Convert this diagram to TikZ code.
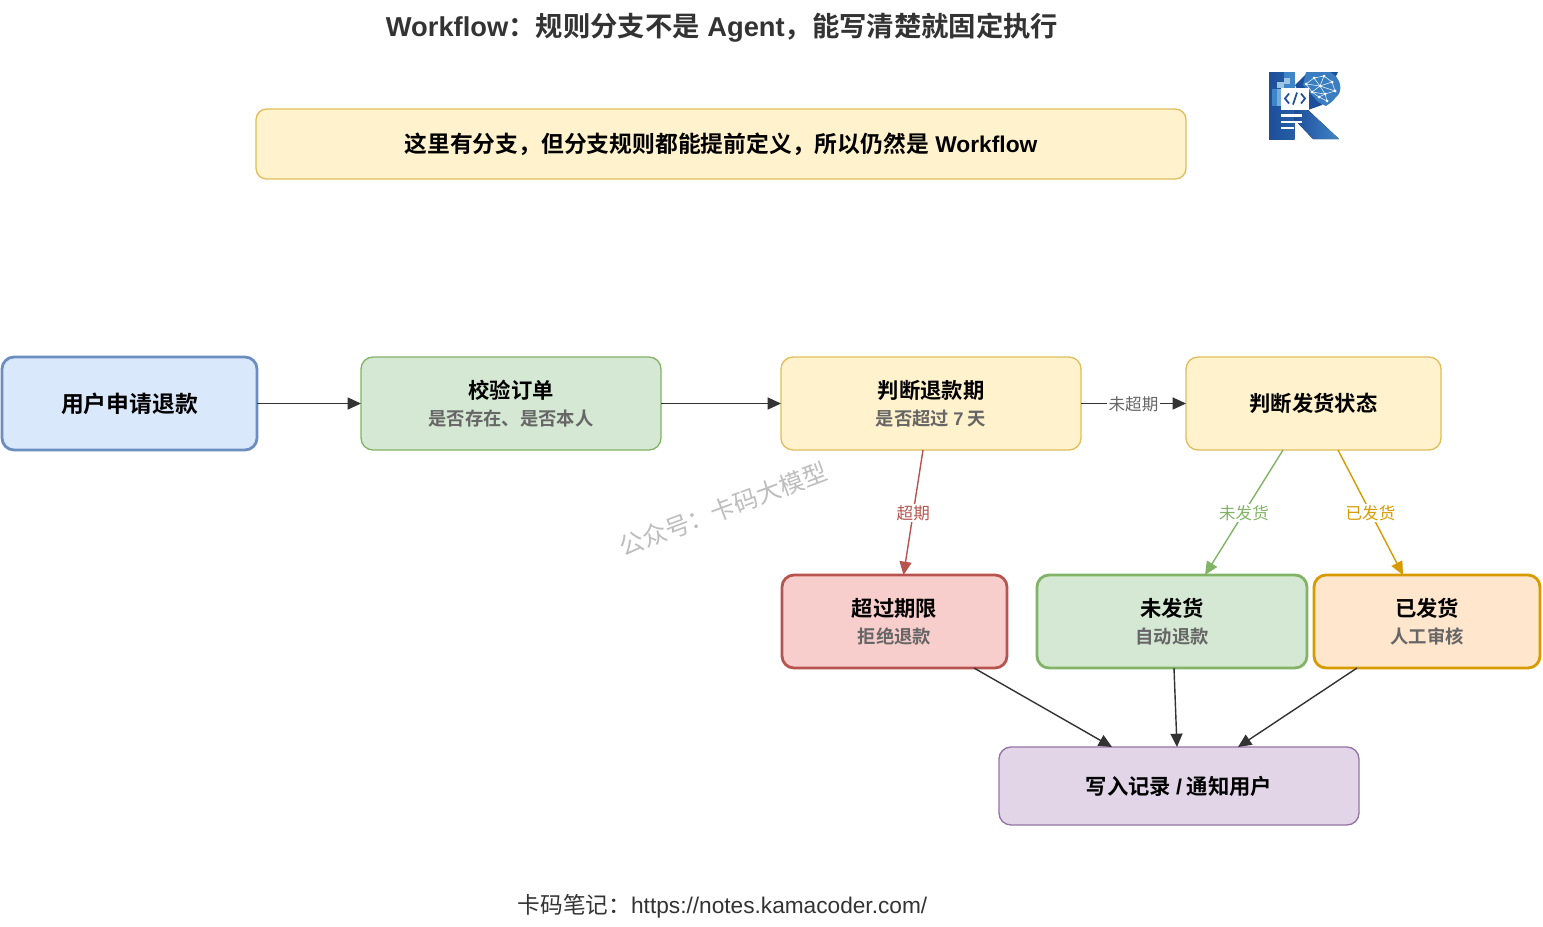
\documentclass[tikz,border=0pt]{standalone}
\usepackage{fontspec}
\setmainfont{Liberation Sans}
\newfontfamily\cjk{Noto Sans CJK SC}[BoldFont={Noto Sans CJK SC Bold}]
\usetikzlibrary{arrows.meta,calc}
\definecolor{blueF}{HTML}{DAE8FC}\definecolor{blueD}{HTML}{6C8EBF}
\definecolor{greenF}{HTML}{D5E8D4}\definecolor{greenD}{HTML}{82B366}
\definecolor{yelF}{HTML}{FFF2CC}\definecolor{yelD}{HTML}{E0BE5C}
\definecolor{redF}{HTML}{F8CECC}\definecolor{redD}{HTML}{B85450}
\definecolor{oraF}{HTML}{FFE6CC}\definecolor{oraD}{HTML}{D79B00}
\definecolor{purF}{HTML}{E1D5E7}\definecolor{purD}{HTML}{9673A6}
\definecolor{ink}{HTML}{333333}\definecolor{subt}{HTML}{666666}
\definecolor{lgA}{HTML}{1D4E9A}\definecolor{lgB}{HTML}{3F86C8}\definecolor{lgC}{HTML}{9CC4E4}
\newcommand{\twol}[2]{{\fontsize{16}{19.6}\selectfont\bfseries #1}\\[0pt]{\fontsize{13.75}{19.6}\selectfont\bfseries\color{subt} #2}}
\tikzset{
 flow/.style={rectangle,rounded corners=9pt,align=center,inner sep=0pt,outer sep=0pt,line width=1pt,font=\fontsize{16}{20}\selectfont\bfseries\cjk,text=black},
 heavy/.style={line width=2.1pt},
 link/.style={draw=ink,line width=1.05pt,-{Triangle[length=10pt,width=9pt]}},
 tag/.style={fill=white,inner sep=1pt,font=\fontsize{12.4}{15}\selectfont\cjk},
}
\begin{document}
\begin{tikzpicture}[x=0.75pt,y=-0.75pt]
\useasboundingbox (0,0) rectangle (1543,926);
\fill[white] (0,0) rectangle (1543,926);
% title
\node[font=\fontsize{20.5}{24}\selectfont\bfseries,text=ink] (title) at (722,28) {Workflow{\cjk ：规则分支不是} Agent{\cjk ，能写清楚就固定执行}};
\node[flow,draw=yelD,fill=yelF,minimum width=697.5pt,minimum height=52.5pt,rounded corners=8pt,font=\fontsize{17.1}{20}\selectfont\bfseries] (banner) at (721,144) {\raisebox{-0.5pt}{{\cjk 这里有分支，但分支规则都能提前定义，所以仍然是} Workflow}};
% logo
\begin{scope}
\fill[left color=lgA,right color=lgA!70!lgB] (1269,72) rectangle (1294.5,139);
\fill[lgB] (1284,72) rectangle (1294.5,90);
\fill[lgC] (1277,82) rectangle (1284,88);\fill[lgC] (1284,78) rectangle (1290,84);
\fill[lgB] (1272,89) rectangle (1277,106);\fill[lgC!60!lgB] (1277,89) rectangle (1281,106);
\fill[lgA] (1295,85) -- (1308,72) -- (1338,72) -- (1322,105) -- (1308,110) -- cycle;
\fill[lgB!85!lgA] (1306,72) -- (1330,72) .. controls (1342,78) and (1343,92) .. (1336,97) .. controls (1332,103) and (1328,104) .. (1326,106) -- (1318,102) -- (1303,85) -- cycle;
\fill[left color=lgA,right color=lgB] (1294,108) -- (1308,110) -- (1339,139) -- (1313,139) -- (1294,119) -- cycle;
\foreach \a/\b/\c/\d in {1306/84/1314/78,1314/78/1324/76,1324/76/1332/82,1314/78/1320/86,1324/76/1320/86,1306/84/1320/86,1320/86/1332/82,1320/86/1335/91,1332/82/1335/91,1320/86/1325/94,1335/91/1325/94,1325/94/1327/101,1312/92/1320/86,1312/92/1325/94,1306/84/1312/92,1312/92/1319/97,1319/97/1325/94,1319/97/1327/101}
  \draw[white!85!lgC,line width=.4pt] (\a,\b) -- (\c,\d);
\foreach \a/\b in {1306/84,1314/78,1324/76,1332/82,1320/86,1335/91,1325/94,1327/101,1312/92,1319/97}
  \fill[white] (\a,\b) circle (1.5);
\fill[white] (1280.5,88) rectangle (1309,109.5);
\draw[lgA,line width=1.3pt] (1289,93.5) -- (1285,98.5) -- (1289,103.5);
\draw[lgA,line width=1.3pt] (1301,93.5) -- (1305,98.5) -- (1301,103.5);
\draw[lgA,line width=1.3pt] (1297,92.5) -- (1293,104.5);
\fill[white] (1280.5,114) rectangle (1302,116.5);
\fill[white] (1280.5,120.5) rectangle (1302,123);
\fill[white] (1280.5,126.5) rectangle (1294,129);
\end{scope}
% nodes
\node[flow,heavy,draw=blueD,fill=blueF,minimum width=191.25pt,minimum height=69.75pt,font=\fontsize{17.1}{20}\selectfont\bfseries\cjk] (apply) at (129.5,403.5) {用户申请退款};
\node[flow,draw=greenD,fill=greenF,minimum width=225pt,minimum height=69.75pt] (check) at (511,403.5) {\twol{校验订单}{是否存在、是否本人}};
\node[flow,draw=yelD,fill=yelF,minimum width=225pt,minimum height=69.75pt] (period) at (931,403.5) {\twol{判断退款期}{{\cjk 是否超过} {\fontspec{Liberation Sans}7} {\cjk 天}}};
\node[flow,draw=yelD,fill=yelF,minimum width=191.25pt,minimum height=69.75pt] (ship) at (1313.5,403.5) {判断发货状态};
\node[flow,heavy,draw=redD,fill=redF,minimum width=168.75pt,minimum height=69.75pt] (late) at (894.5,621.5) {\twol{超过期限}{拒绝退款}};
\node[flow,heavy,draw=greenD,fill=greenF,minimum width=202.5pt,minimum height=69.75pt] (unsent) at (1172,621.5) {\twol{未发货}{自动退款}};
\node[flow,heavy,draw=oraD,fill=oraF,minimum width=169.5pt,minimum height=69.75pt] (sent) at (1427,621.5) {\twol{已发货}{人工审核}};
\node[flow,draw=purD,fill=purF,minimum width=270pt,minimum height=58.5pt] (notify) at (1179,786) {写入记录 {\fontspec{Liberation Sans}\bfseries /} 通知用户};
% connectors
\draw[link] (apply) -- (check);
\draw[link] (check) -- (period);
\draw[link] (period) -- node[tag,text=subt,yshift=-0.5pt]{未超期} (ship);
\draw[link,draw=redD,-{Triangle[length=10pt,width=9pt,fill=redD]}] ($(period.south)+(-8,0)$) -- node[tag,text=redD,yshift=-0.7pt]{超期} ($(late.north)+(9,0)$);
\draw[link,draw=greenD,-{Triangle[length=10pt,width=9pt,fill=greenD]}] ($(ship.south)+(-30.5,0)$) -- node[tag,text=greenD,yshift=-0.7pt]{未发货} ($(unsent.north)+(33,0)$);
\draw[link,draw=oraD,-{Triangle[length=10pt,width=9pt,fill=oraD]}] ($(ship.south)+(24.5,0)$) -- node[tag,text=oraD,yshift=-0.7pt]{已发货} ($(sent.north)+(-24,0)$);
\draw[link] ($(late.south)+(79.5,0)$) -- ($(notify.north)+(-67,0)$);
\draw[link] ($(unsent.south)+(2,0)$) -- ($(notify.north)+(-2,0)$);
\draw[link] ($(sent.south)+(-70,0)$) -- ($(notify.north)+(59,0)$);
% watermark and footer
\node[rotate=20.5,text=black!26,font=\fontsize{18.3}{22}\selectfont\cjk] (mark) at (723,509) {公众号：卡码大模型};
\node[text=ink,font=\fontsize{17}{20}\selectfont] (foot) at (722.5,906) {{\cjk 卡码笔记：}https://notes.kamacoder.com/};
\end{tikzpicture}
\end{document}
